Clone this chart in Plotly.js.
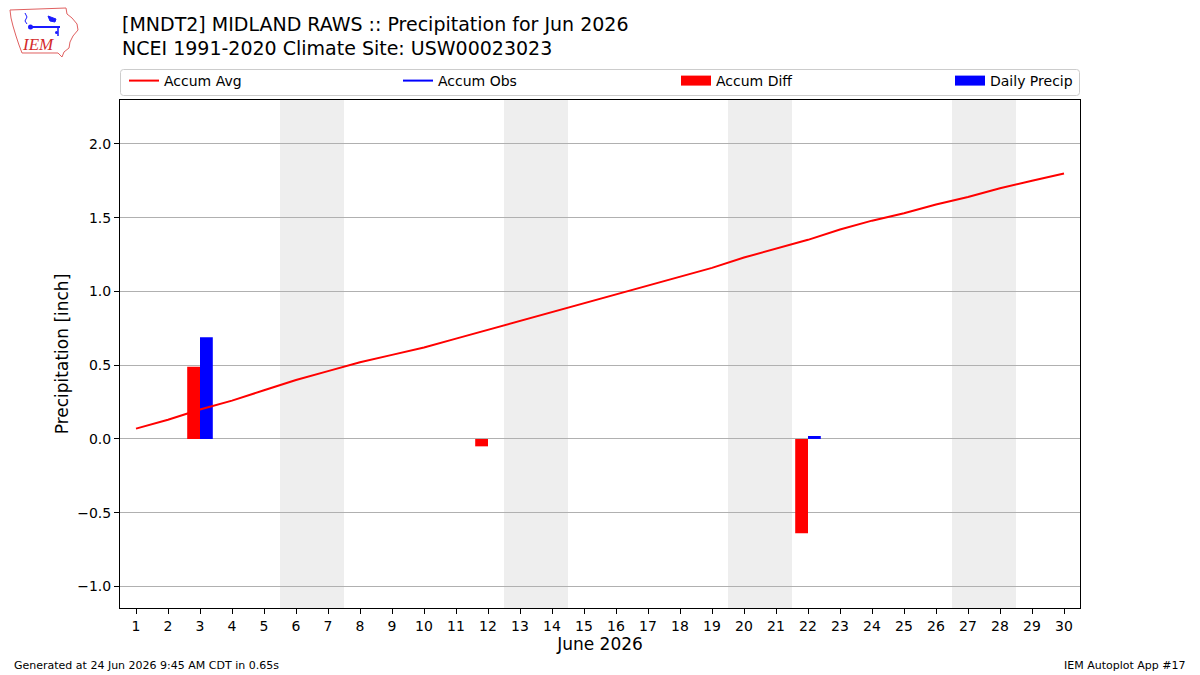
<!DOCTYPE html>
<html>
<head>
<meta charset="utf-8">
<script src="https://cdn.plot.ly/plotly-3.0.1.min.js"></script>
<style>
  html, body { margin: 0; padding: 0; background: #ffffff; }
  #chart { width: 1200px; height: 675px; }
</style>
</head>
<body>
<div id="chart"></div>
<script>
// Day of month, June 2026
const days = [1,2,3,4,5,6,7,8,9,10,11,12,13,14,15,16,17,18,19,20,21,22,23,24,25,26,27,28,29,30];
// NCEI 1991-2020 climatology, accumulated precipitation [inch]
const accumAvg = [0.07,0.13,0.20,0.26,0.33,0.40,0.46,0.52,0.57,0.62,
                  0.68,0.74,0.80,0.86,0.92,0.98,1.04,1.10,1.16,1.23,
                  1.29,1.35,1.42,1.48,1.53,1.59,1.64,1.70,1.75,1.80];
// Observed accumulation (no valid reports for any day)
const accumObs = [null,null,null,null,null,null,null,null,null,null,
                  null,null,null,null,null,null,null,null,null,null,
                  null,null,null,null,null,null,null,null,null,null];
// Observed minus climatology accumulation [inch]
const diffDays = [3, 12, 22];
const accumDiff = [0.49, -0.05, -0.64];
// Daily observed precipitation [inch]
const precipDays = [3, 22];
const dailyPrecip = [0.69, 0.02];
// Saturdays of the month (weekends shaded)
const saturdays = [6, 13, 20, 27];
const yTicks = [-1.0, -0.5, 0.0, 0.5, 1.0, 1.5, 2.0];

const FONT = "DejaVu Sans, Liberation Sans, sans-serif";

// figure geometry in pixels
const W = 1200, H = 675, L = 120, R = 1080, T = 100, B = 608;
const px = (x) => (x - L) / (R - L);
const py = (y) => (B - y) / (B - T);
const pathFrom = (pts, close) =>
  pts.map((p, i) => (i ? 'L' : 'M') + px(p[0]).toFixed(5) + ',' + py(p[1]).toFixed(5)).join(' ') + (close ? ' Z' : '');

const traces = [
  {
    type: 'scatter', mode: 'lines', name: 'Accum Avg',
    x: days, y: accumAvg,
    line: { color: '#ff0000', width: 2 },
    legend: 'legend', hoverinfo: 'x+y'
  },
  {
    type: 'scatter', mode: 'lines', name: 'Accum Obs',
    x: days, y: accumObs,
    line: { color: '#0000ff', width: 2 },
    legend: 'legend2'
  },
  {
    type: 'bar', name: 'Accum Diff',
    x: diffDays, y: accumDiff,
    width: 0.4, offset: -0.4,
    marker: { color: '#ff0000', line: { width: 0 } },
    showlegend: false
  },
  {
    type: 'bar', name: 'Daily Precip',
    x: precipDays, y: dailyPrecip,
    width: 0.4, offset: 0,
    marker: { color: '#0000ff', line: { width: 0 } },
    showlegend: false
  },
  // legend swatches for the bar series
  {
    type: 'scatter', mode: 'lines', name: 'Accum Diff',
    x: [null], y: [null],
    line: { color: '#ff0000', width: 10 },
    legend: 'legend3', hoverinfo: 'skip'
  },
  {
    type: 'scatter', mode: 'lines', name: 'Daily Precip',
    x: [null], y: [null],
    line: { color: '#0000ff', width: 10 },
    legend: 'legend4', hoverinfo: 'skip'
  }
];

// weekend shading
const shapes = saturdays.map(d => ({
  type: 'rect', xref: 'x', yref: 'paper',
  x0: d - 0.5, x1: d + 1.5, y0: 0, y1: 1,
  fillcolor: '#eeeeee', line: { width: 0 }, layer: 'below'
}));

// legend frame with rounded corners
(function () {
  const x0 = 120.5, x1 = 1079.5, y0 = 69.5, y1 = 95.5, r = 3;
  const d = [
    'M', px(x0 + r), py(y0),
    'L', px(x1 - r), py(y0),
    'Q', px(x1), py(y0), px(x1), py(y0 + r),
    'L', px(x1), py(y1 - r),
    'Q', px(x1), py(y1), px(x1 - r), py(y1),
    'L', px(x0 + r), py(y1),
    'Q', px(x0), py(y1), px(x0), py(y1 - r),
    'L', px(x0), py(y0 + r),
    'Q', px(x0), py(y0), px(x0 + r), py(y0), 'Z'
  ];
  let s = '';
  for (let i = 0; i < d.length; i++) {
    const v = d[i];
    s += (typeof v === 'number') ? v.toFixed(5) + (typeof d[i + 1] === 'number' ? ',' : ' ') : v + ' ';
  }
  shapes.push({
    type: 'path', xref: 'paper', yref: 'paper', path: s.trim(),
    fillcolor: 'rgba(255,255,255,0.8)', line: { color: '#cccccc', width: 1 }, layer: 'above'
  });
})();

// IEM logo: state outline and station glyph
shapes.push({
  type: 'path', xref: 'paper', yref: 'paper', layer: 'above',
  path: pathFrom([[10,10],[66,8],[67,14],[72,18],[77,24],[78,30],[73,36],[70,42],[69,48],[64,52],[62,57],[58,53],[22,53],[19,45],[16,36],[13,26],[11,18]], true),
  fillcolor: 'rgba(0,0,0,0)', line: { color: '#e06060', width: 1 }
});
shapes.push({
  type: 'path', xref: 'paper', yref: 'paper', layer: 'above',
  path: pathFrom([[31,27],[60,27]], false),
  line: { color: '#1a1aff', width: 2 }
});
shapes.push({
  type: 'path', xref: 'paper', yref: 'paper', layer: 'above',
  path: pathFrom([[48,16],[56,19],[55,22],[50,21]], true),
  fillcolor: '#1a1aff', line: { color: '#1a1aff', width: 1 }
});
shapes.push({
  type: 'path', xref: 'paper', yref: 'paper', layer: 'above',
  path: pathFrom([[58,27],[58,36]], false),
  line: { color: '#1a1aff', width: 1.5 }
});
shapes.push({
  type: 'path', xref: 'paper', yref: 'paper', layer: 'above',
  path: pathFrom([[25,13],[27,17],[25,21],[27,24]], false),
  line: { color: '#1a1aff', width: 1 }
});
shapes.push({
  type: 'circle', xref: 'paper', yref: 'paper', layer: 'above',
  x0: px(28), x1: px(33), y0: py(29.5), y1: py(24.5),
  fillcolor: '#1a1aff', line: { width: 0 }
});
shapes.push({
  type: 'circle', xref: 'paper', yref: 'paper', layer: 'above',
  x0: px(55), x1: px(58), y0: py(34), y1: py(31),
  fillcolor: '#1a1aff', line: { width: 0 }
});

const annotations = [
  {
    text: '[MNDT2] MIDLAND RAWS :: Precipitation for Jun 2026',
    xref: 'paper', yref: 'paper', x: 0, y: py(24), xanchor: 'left', yanchor: 'middle',
    showarrow: false, font: { family: FONT, size: 19, color: '#000000' }
  },
  {
    text: 'NCEI 1991-2020 Climate Site: USW00023023',
    xref: 'paper', yref: 'paper', x: 0, y: py(48), xanchor: 'left', yanchor: 'middle',
    showarrow: false, font: { family: FONT, size: 19, color: '#000000' }
  },
  {
    text: 'Generated at 24 Jun 2026 9:45 AM CDT in 0.65s',
    xref: 'paper', yref: 'paper', x: px(12), y: py(665), xanchor: 'left', yanchor: 'middle',
    showarrow: false, font: { family: FONT, size: 11, color: '#000000' }
  },
  {
    text: 'IEM Autoplot App #17',
    xref: 'paper', yref: 'paper', x: px(1188), y: py(665), xanchor: 'right', yanchor: 'middle',
    showarrow: false, font: { family: FONT, size: 11, color: '#000000' }
  },
  {
    text: '<i>IEM</i>',
    xref: 'paper', yref: 'paper', x: px(38), y: py(45), xanchor: 'center', yanchor: 'middle',
    showarrow: false, font: { family: 'Liberation Serif, DejaVu Serif, serif', size: 17, color: '#d42a2a' }
  }
];

const legendBase = {
  orientation: 'h', xanchor: 'left', yanchor: 'middle', y: py(81),
  bgcolor: 'rgba(0,0,0,0)', borderwidth: 0,
  font: { family: FONT, size: 14, color: '#000000' }
};

const layout = {
  width: W, height: H,
  margin: { l: L, r: W - R, t: T, b: H - B, pad: 0 },
  paper_bgcolor: '#ffffff', plot_bgcolor: '#ffffff',
  font: { family: FONT, size: 14, color: '#000000' },
  barmode: 'overlay',
  showlegend: true,
  legend: Object.assign({}, legendBase, { x: px(124) }),
  legend2: Object.assign({}, legendBase, { x: px(398) }),
  legend3: Object.assign({}, legendBase, { x: px(676) }),
  legend4: Object.assign({}, legendBase, { x: px(950) }),
  xaxis: {
    range: [0.5, 30.5],
    tickmode: 'array', tickvals: days, ticktext: days.map(String),
    ticks: 'outside', ticklen: 5, tickwidth: 1, tickcolor: '#000000',
    showgrid: false, zeroline: false,
    showline: true, linecolor: '#000000', linewidth: 1, mirror: true,
    tickfont: { family: FONT, size: 14, color: '#000000' },
    title: { text: 'June 2026', font: { family: FONT, size: 17, color: '#000000' }, standoff: 5 },
    fixedrange: true
  },
  yaxis: {
    range: [-1.146, 2.298],
    tickmode: 'array', tickvals: yTicks, ticktext: yTicks.map(v => (v < 0 ? '\u2212' : '') + Math.abs(v).toFixed(1)),
    ticks: 'outside', ticklen: 5, tickwidth: 1, tickcolor: '#000000',
    showgrid: true, gridcolor: '#b0b0b0', gridwidth: 1, zeroline: false,
    showline: true, linecolor: '#000000', linewidth: 1, mirror: true,
    tickfont: { family: FONT, size: 14, color: '#000000' },
    title: { text: 'Precipitation [inch]', font: { family: FONT, size: 17, color: '#000000' }, standoff: 4 },
    fixedrange: true
  },
  shapes: shapes,
  annotations: annotations
};

Plotly.newPlot('chart', traces, layout, { displayModeBar: false, responsive: false });
</script>
</body>
</html>
